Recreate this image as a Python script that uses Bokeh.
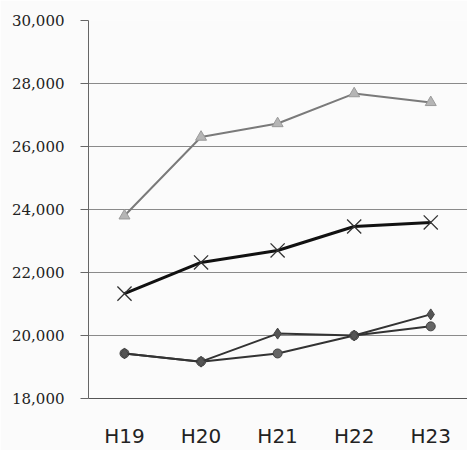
from bokeh.plotting import figure
from bokeh.models import NumeralTickFormatter, FixedTicker, Range1d
from bokeh.embed import file_html
from bokeh.resources import INLINE

years = ["H19", "H20", "H21", "H22", "H23"]
series_tri = [23800, 26300, 26730, 27680, 27400]
series_x = [21330, 22320, 22700, 23460, 23590]
series_dia = [19430, 19170, 20060, 20000, 20670]
series_circ = [19430, 19170, 19430, 20000, 20290]
y_ticks = [18000, 20000, 22000, 24000, 26000, 28000, 30000]

xs = list(range(len(years)))

p = figure(x_range=Range1d(-0.47, 4.48), y_range=Range1d(18000, 30000),
           width=467, height=450, output_backend="svg", toolbar_location=None,
           min_border_left=88, min_border_right=0, min_border_top=20, min_border_bottom=52)
p.background_fill_color = "#fbfbfb"
p.border_fill_color = "#fbfbfb"
p.outline_line_color = None

p.line(xs, series_tri, line_color="#7a7a7a", line_width=2)
p.scatter(xs, series_tri, marker="triangle", size=11, fill_color="#b5b5b5", line_color="#9a9a9a")

p.line(xs, series_x, line_color="#111111", line_width=3)
p.scatter(xs, series_x, marker="x", size=20, line_color="#333333", line_width=1.3)

p.line(xs, series_circ, line_color="#333333", line_width=2)
p.scatter(xs, series_circ, marker="circle", size=9, fill_color="#666666", line_color="#444444")

p.line(xs, series_dia, line_color="#333333", line_width=2)
p.scatter(xs, series_dia, marker="diamond", size=11, fill_color="#555555", line_color="#444444")

p.yaxis.ticker = FixedTicker(ticks=y_ticks)
p.yaxis.formatter = NumeralTickFormatter(format="0,0")
p.yaxis.major_label_text_font = "DejaVu Serif"
p.yaxis.major_label_text_font_size = "15px"
p.yaxis.major_label_text_color = "#222222"
p.yaxis.axis_line_color = "#666666"
p.yaxis.major_tick_out = 8
p.yaxis.major_tick_in = 0
p.yaxis.major_tick_line_color = "#666666"
p.yaxis.minor_tick_line_color = None
p.yaxis.major_label_standoff = 16

p.xaxis.ticker = FixedTicker(ticks=xs)
p.xaxis.major_label_overrides = {i: y for i, y in zip(xs, years)}
p.xaxis.axis_line_color = "#555555"
p.xaxis.major_tick_line_color = None
p.xaxis.major_tick_out = 0
p.xaxis.major_tick_in = 0
p.xaxis.minor_tick_line_color = None
p.xaxis.minor_tick_out = 0
p.xaxis.major_label_text_font = "DejaVu Sans"
p.xaxis.major_label_text_font_size = "20px"
p.xaxis.major_label_text_color = "#222222"
p.xaxis.major_label_standoff = 25

p.xgrid.grid_line_color = None
p.ygrid.grid_line_color = "#8a8a8a"
p.ygrid.grid_line_width = 1

open("out.html", "w").write(file_html(p, INLINE))
